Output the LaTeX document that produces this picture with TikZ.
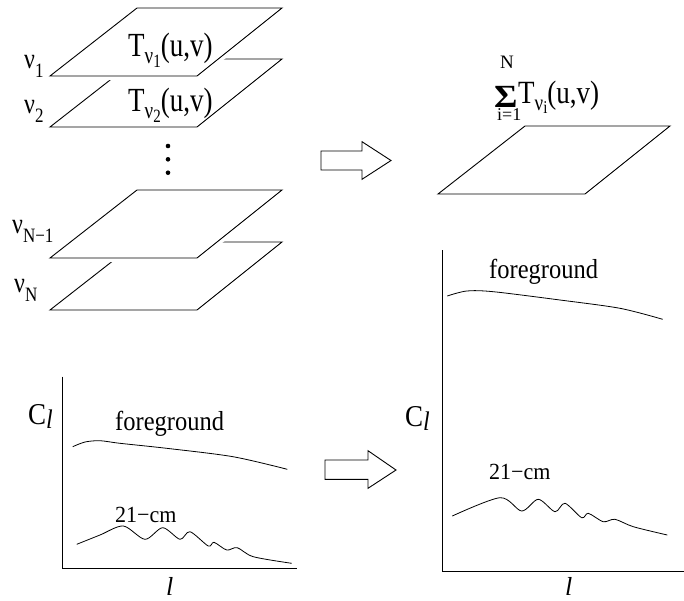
\documentclass[tikz,border=0pt]{standalone}
\usepackage{graphicx}
\usepackage{fontspec}
\setmainfont{Liberation Serif}
\newcommand{\fs}[1]{\fontsize{#1}{#1}\selectfont}
\newcommand{\dn}[3]{\raisebox{-#1}{\fs{#2}#3}}
\newcommand{\vs}[2]{\scalebox{1}[#1]{#2}}
\tikzset{
  layer/.pic={
    \path[draw=white,line width=8pt,line join=round,fill=white] (0,0)--(147,0)--(232,-68)--(87,-68)--cycle;
    \draw[line width=0.9pt,line join=miter] (0,0)--(147,0)--(232,-68)--(87,-68)--cycle;
  },
  txt/.style={inner sep=0pt,anchor=base west},
  axis/.style={line width=1.2pt},
  curve/.style={line width=0.8pt},
  blockarrow/.style={draw,line width=0.9pt,fill=white,line join=miter}
}
\begin{document}
\begin{tikzpicture}[x=1pt,y=-1pt]
\useasboundingbox (0,0) rectangle (684,600);
% stack of layers
\pic at (50,127) {layer};
\pic at (50,76) {layer};
\pic at (50,310) {layer};
\pic at (50,258) {layer};
\pic at (438,194) {layer};
% dots
\foreach \yy in {146,159.3,172.7} \fill (168,\yy) circle (2.3);
% layer labels
\node[txt] (n1) at (24,68) {\vs{1.2}{\fs{24}ν\dn{8pt}{17}{1}}};
\node[txt] (n2) at (24,113) {\vs{1.2}{\fs{24}ν\dn{8pt}{17}{2}}};
\node[txt] (nN1) at (12,233) {\vs{1.2}{\fs{24}ν\dn{8pt}{17}{N−1}}};
\node[txt] (nN) at (14,292) {\vs{1.2}{\fs{24}ν\dn{8pt}{17}{N}}};
\node[txt] (t1) at (128,56) {\vs{1.25}{\fs{27}T\dn{6pt}{19}{ν\dn{3pt}{15}{1}}(u,v)}};
\node[txt] (t2) at (128,111) {\vs{1.25}{\fs{27}T\dn{6pt}{19}{ν\dn{3pt}{15}{2}}(u,v)}};
% sum label
\node[txt] (sig) at (494,107.5) {\scalebox{1.05}[0.95]{\fs{34}\bfseries Σ}};
\node[txt] (stop) at (500,68) {\fs{19}N};
\node[txt] (sbot) at (497,120) {\fs{18}i=1};
\node[txt] (sterm) at (518,103) {\vs{1.2}{\fs{27}T\dn{6pt}{19}{ν\dn{3pt}{15}{i}}(u,v)}};
% block arrows
\draw[blockarrow] (321,151)--(362,151)--(362,141.7)--(391,160.5)--(362,179.3)--(362,170)--(321,170)--cycle;
\draw[blockarrow] (325,460)--(368,460)--(368,450.7)--(396,470)--(368,488.3)--(368,479.3)--(325,479.3)--cycle;
% left chart
\coordinate (lo) at (62.3,568.3);
\coordinate (ltop) at (62.3,376.7);
\coordinate (lend) at (296.7,568.3);
\draw[axis] (ltop)--(lo)--(lend);
\node[txt] (lcl) at (28,424) {\vs{1.12}{\fs{27}C\dn{4pt}{24}{\itshape l}}};
\node[txt] (lfg) at (115,430) {\vs{1.12}{\fs{24.5}foreground}};
\node[txt] (l21) at (115,522) {\vs{1.05}{\fs{22}21−cm}};
\node[txt] (ll) at (166,595) {\fs{26}\itshape l};
\draw[curve] plot[smooth] coordinates {(72.7,446.7)(85,442)(100,440.7)(120,443.3)(166.7,448.3)(233,456.7)(287.3,469.3)};
\draw[curve] plot[smooth] coordinates {(76.7,544.3)(100,535)(123.3,526)(145,539.3)(162.7,527.7)(180,539.3)(190,531.7)(208.3,546)(214,542.3)(226.7,550)(237.3,547.7)(253.3,556.7)(291.7,563.3)};
% right chart
\coordinate (ro) at (442.3,571.7);
\coordinate (rtop) at (442.3,250);
\coordinate (rend) at (684,571.7);
\draw[axis] (rtop)--(ro)--(rend);
\node[txt] (rcl) at (405,426) {\vs{1.12}{\fs{27}C\dn{4pt}{24}{\itshape l}}};
\node[txt] (rfg) at (489,278) {\vs{1.12}{\fs{24.5}foreground}};
\node[txt] (r21) at (489,479) {\vs{1.05}{\fs{22}21−cm}};
\node[txt] (rl) at (565,595) {\fs{26}\itshape l};
\draw[curve] plot[smooth] coordinates {(447.3,296)(466.7,291)(493.3,291.7)(560,300)(620,308.3)(662.7,319.3)};
\draw[curve] plot[smooth] coordinates {(452.3,516)(500,497.7)(521.7,511)(538.3,499.3)(555,511.7)(565,503.3)(581.7,517.7)(588.3,513.3)(603.3,521.7)(615,519.3)(633.3,526.7)(667.3,535)};
\end{tikzpicture}
\end{document}
